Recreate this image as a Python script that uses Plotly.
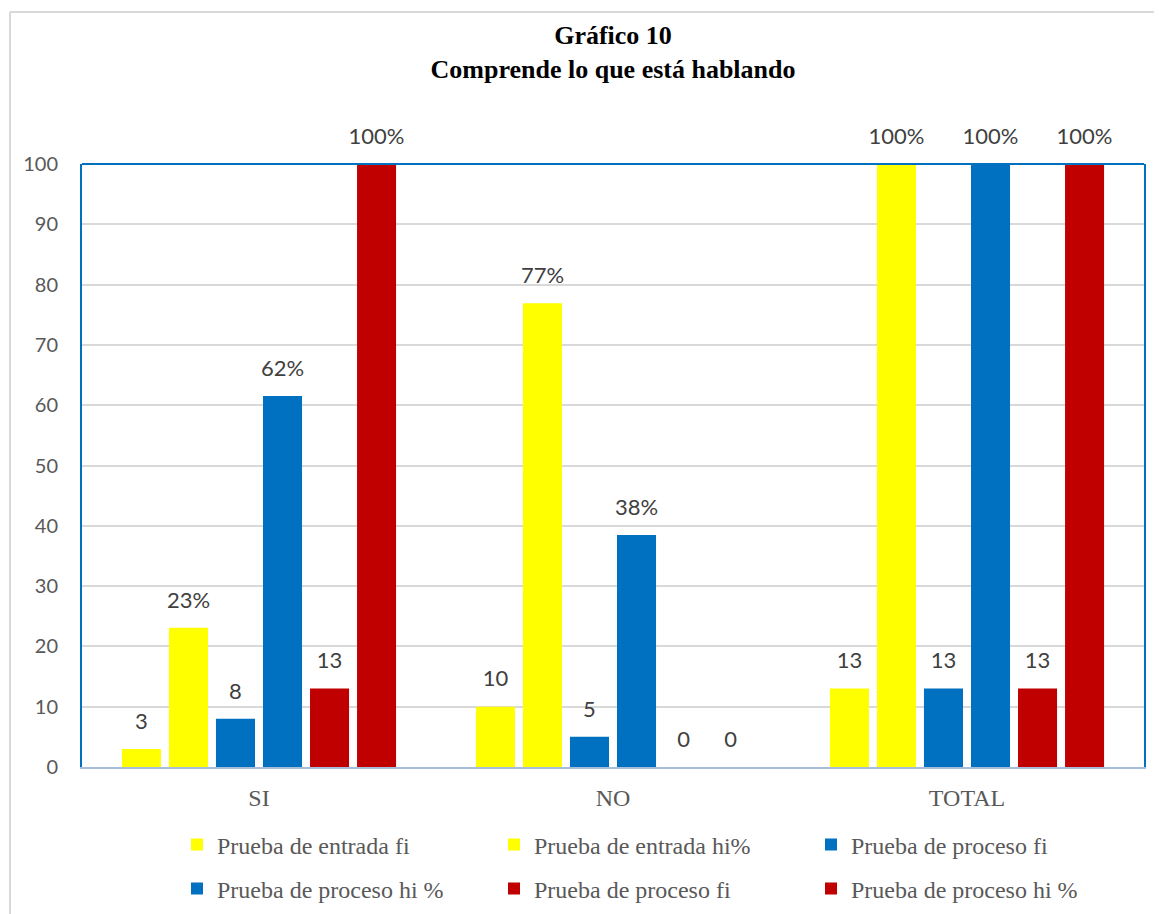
import plotly.graph_objects as go

# ── data ────────────────────────────────────────────────────────────────────
categories = ["SI", "NO", "TOTAL"]

series_names = [
    "Prueba de entrada fi",
    "Prueba de entrada hi%",
    "Prueba de proceso fi",
    "Prueba de proceso hi %",
    "Prueba de proceso fi",
    "Prueba de proceso hi %",
]
entrada_fi = [3, 10, 13]
entrada_hi = [23.08, 76.92, 100]
proceso_fi = [8, 5, 13]
proceso_hi = [61.54, 38.46, 100]
proceso2_fi = [13, 0, 13]
proceso2_hi = [100, 0, 100]

series_values = [entrada_fi, entrada_hi, proceso_fi, proceso_hi, proceso2_fi, proceso2_hi]
is_percent = [False, True, False, True, False, True]
colors = ["#FFFF00", "#FFFF00", "#0070C0", "#0070C0", "#C00000", "#C00000"]

y_ticks = list(range(0, 101, 10))

GRAY = "#595959"
LABEL_GRAY = "#404040"
SANS = "Lato, Carlito, 'Liberation Sans', sans-serif"
SERIF = "'Liberation Serif', 'Times New Roman', serif"
GAP = 0.203

# page body adds an 8px margin, so the figure is sized to fit inside
W, H = 1154, 906
L, R, T, B = 74, 18, 156, 147
PW, PH = W - L - R, H - T - B


def px_x(x):
    return (x - L) / PW


def px_y(y):
    return (H - B - y) / PH


fig = go.Figure()
for i, (name, vals, clr) in enumerate(zip(series_names, series_values, colors)):
    fig.add_trace(go.Bar(
        x=categories, y=vals, name=name, offsetgroup=f"s{i}",
        marker=dict(color=clr, line=dict(width=0)),
        legend="legend" if i < 3 else "legend2",
    ))

# data labels as grouped text-scatter (same offset group as its bar series)
for i, (vals, pct) in enumerate(zip(series_values, is_percent)):
    labels = [f"{round(v)}%" if (pct and v > 0) else f"{round(v)}" for v in vals]
    fig.add_trace(go.Scatter(
        x=categories, y=vals, mode="markers+text", text=labels,
        textposition="top center", cliponaxis=False, showlegend=False,
        hoverinfo="skip", offsetgroup=f"s{i}",
        marker=dict(size=22, opacity=0),
        textfont=dict(family=SANS, size=22, color=LABEL_GRAY),
    ))

legend_common = dict(
    orientation="h", x=px_x(169), xanchor="left", yanchor="middle",
    entrywidth=272, entrywidthmode="pixels",
    font=dict(family=SERIF, size=24, color=GRAY),
    itemwidth=30, bgcolor="rgba(0,0,0,0)",
)

fig.update_layout(
    width=W, height=H,
    margin=dict(l=L, r=R, t=T, b=B, autoexpand=False),
    paper_bgcolor="white", plot_bgcolor="white",
    barmode="group", bargap=GAP, bargroupgap=0.17,
    scattermode="group", scattergap=GAP,
    title=dict(
        text="Gráfico 10<br>Comprende lo que está hablando",
        font=dict(family=SERIF, size=26, color="black", weight="bold"),
        x=0.5, xref="paper", xanchor="center",
        y=1 - 36 / H, yanchor="top",
    ),
    showlegend=True,
    legend=dict(legend_common, y=px_y(837)),
    legend2=dict(legend_common, y=px_y(881)),
)

fig.update_xaxes(
    showgrid=False, showline=True, linecolor="#A6BEDC", linewidth=2,
    ticks="", ticklabelstandoff=8,
    tickfont=dict(family=SERIF, size=24, color=GRAY),
)
fig.update_yaxes(
    range=[0, 100], tickvals=y_ticks,
    showgrid=True, gridcolor="#D9D9D9", gridwidth=1.5,
    showline=True, mirror=True, linecolor="#0070C0", linewidth=2,
    ticks="", ticklabelstandoff=18, zeroline=False,
    tickfont=dict(family=SANS, size=20, color=GRAY),
)

# top edge of the plot frame and the outer chart border
fig.add_shape(type="line", xref="paper", yref="paper", x0=0, x1=1, y0=1, y1=1,
              line=dict(color="#0070C0", width=2))
fig.add_shape(type="line", xref="paper", yref="paper",
              x0=px_x(2), x1=px_x(2), y0=px_y(H + 10), y1=px_y(4),
              line=dict(color="#D9D9D9", width=2))
fig.add_shape(type="line", xref="paper", yref="paper",
              x0=px_x(2), x1=px_x(W + 10), y0=px_y(4), y1=px_y(4),
              line=dict(color="#D9D9D9", width=2))

fig.write_html("out.html")
